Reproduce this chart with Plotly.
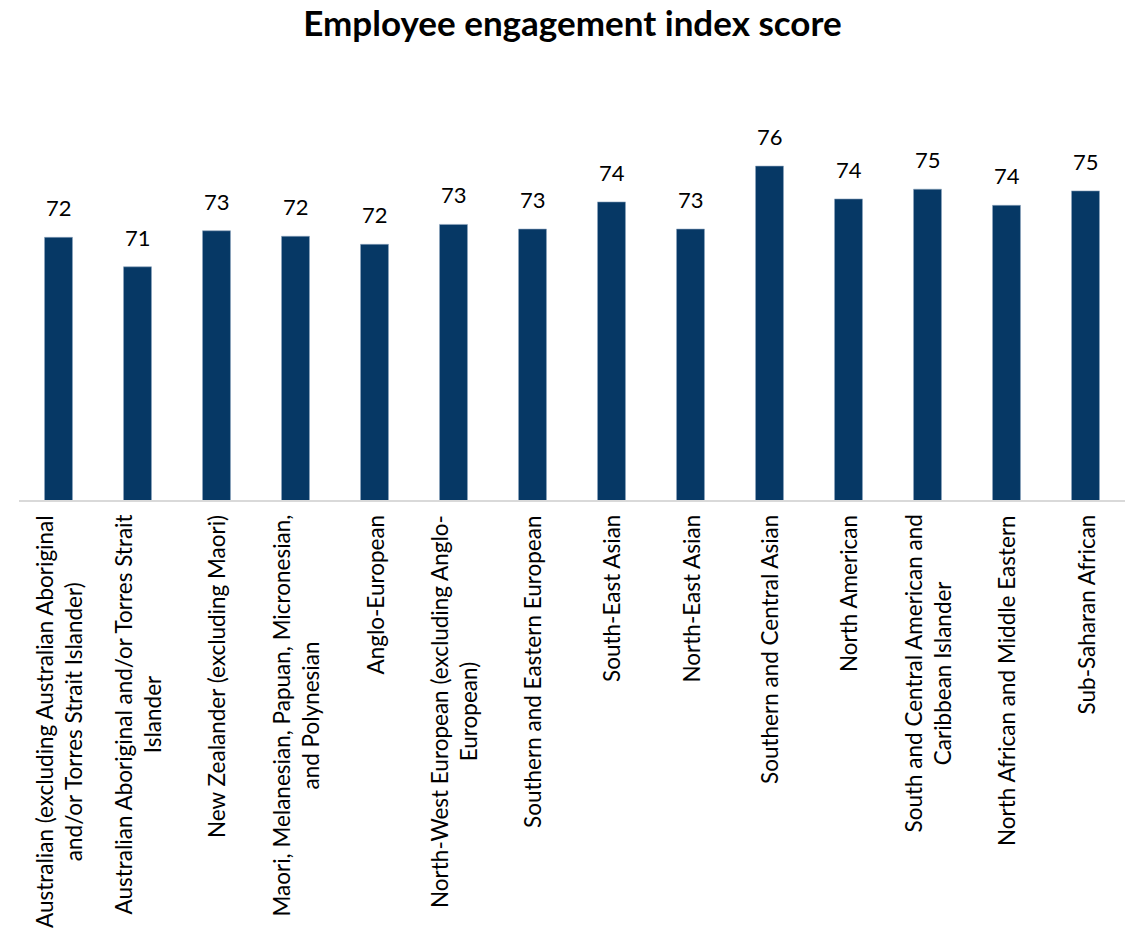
import plotly.graph_objects as go

# Employee engagement index score by cultural background
categories = [
    "Australian (excluding Australian Aboriginal and/or Torres Strait Islander)",
    "Australian Aboriginal and/or Torres Strait Islander",
    "New Zealander (excluding Maori)",
    "Maori, Melanesian, Papuan, Micronesian, and Polynesian",
    "Anglo-European",
    "North-West European (excluding Anglo-European)",
    "Southern and Eastern European",
    "South-East Asian",
    "North-East Asian",
    "Southern and Central Asian",
    "North American",
    "South and Central American and Caribbean Islander",
    "North African and Middle Eastern",
    "Sub-Saharan African",
]

# Axis label text, one list of wrapped lines per category
label_lines = [
    ["Australian (excluding Australian Aboriginal", "and/or Torres Strait Islander)"],
    ["Australian Aboriginal and/or Torres Strait", "Islander"],
    ["New Zealander (excluding Maori)"],
    ["Maori, Melanesian, Papuan, Micronesian,", "and Polynesian"],
    ["Anglo-European"],
    ["North-West European (excluding Anglo-", "European)"],
    ["Southern and Eastern European"],
    ["South-East Asian"],
    ["North-East Asian"],
    ["Southern and Central Asian"],
    ["North American"],
    ["South and Central American and", "Caribbean Islander"],
    ["North African and Middle Eastern"],
    ["Sub-Saharan African"],
]

scores = [72.39, 71.00, 72.70, 72.44, 72.06, 73.00, 72.78,
          74.06, 72.78, 75.75, 74.20, 74.66, 73.90, 74.58]

BAR_COLOR = "#063865"
FONT = "Lato"

fig = go.Figure(
    go.Bar(
        x=categories,
        y=scores,
        width=0.354,
        marker=dict(color=BAR_COLOR, line=dict(color="#8da5be", width=0.6)),
        hoverinfo="skip",
    )
)

annotations = []
# value labels above each bar
for cat, val in zip(categories, scores):
    annotations.append(dict(
        x=cat, y=val, xref="x", yref="y",
        text=f"{val:.0f}", showarrow=False,
        yanchor="bottom", yshift=14,
        font=dict(family=FONT, size=22, color="#000000"),
    ))
# rotated category labels below the axis
for cat, lines in zip(categories, label_lines):
    annotations.append(dict(
        x=cat, y=0, xref="x", yref="paper",
        text="<br>".join(lines), showarrow=False,
        textangle=-90, align="center",
        xanchor="center", yanchor="top", yshift=-13,
        font=dict(family=FONT, size=22.5, color="#000000"),
    ))

fig.update_layout(
    width=1127, height=930,
    margin=dict(l=19, r=2, t=76, b=430),
    paper_bgcolor="white", plot_bgcolor="white",
    showlegend=False,
    title=dict(
        text="<b>Employee engagement index score</b>",
        x=0.508, xanchor="center", y=0.975, yanchor="middle",
        yref="container",
        font=dict(family=FONT, size=35, color="#000000"),
    ),
    xaxis=dict(
        showticklabels=False, ticks="", showgrid=False, zeroline=False,
        showline=True, linecolor="#d9d9d9", linewidth=1.5,
    ),
    yaxis=dict(
        range=[60, 80], visible=False, showgrid=False, zeroline=False,
    ),
    annotations=annotations,
)

fig.write_html("out.html")
